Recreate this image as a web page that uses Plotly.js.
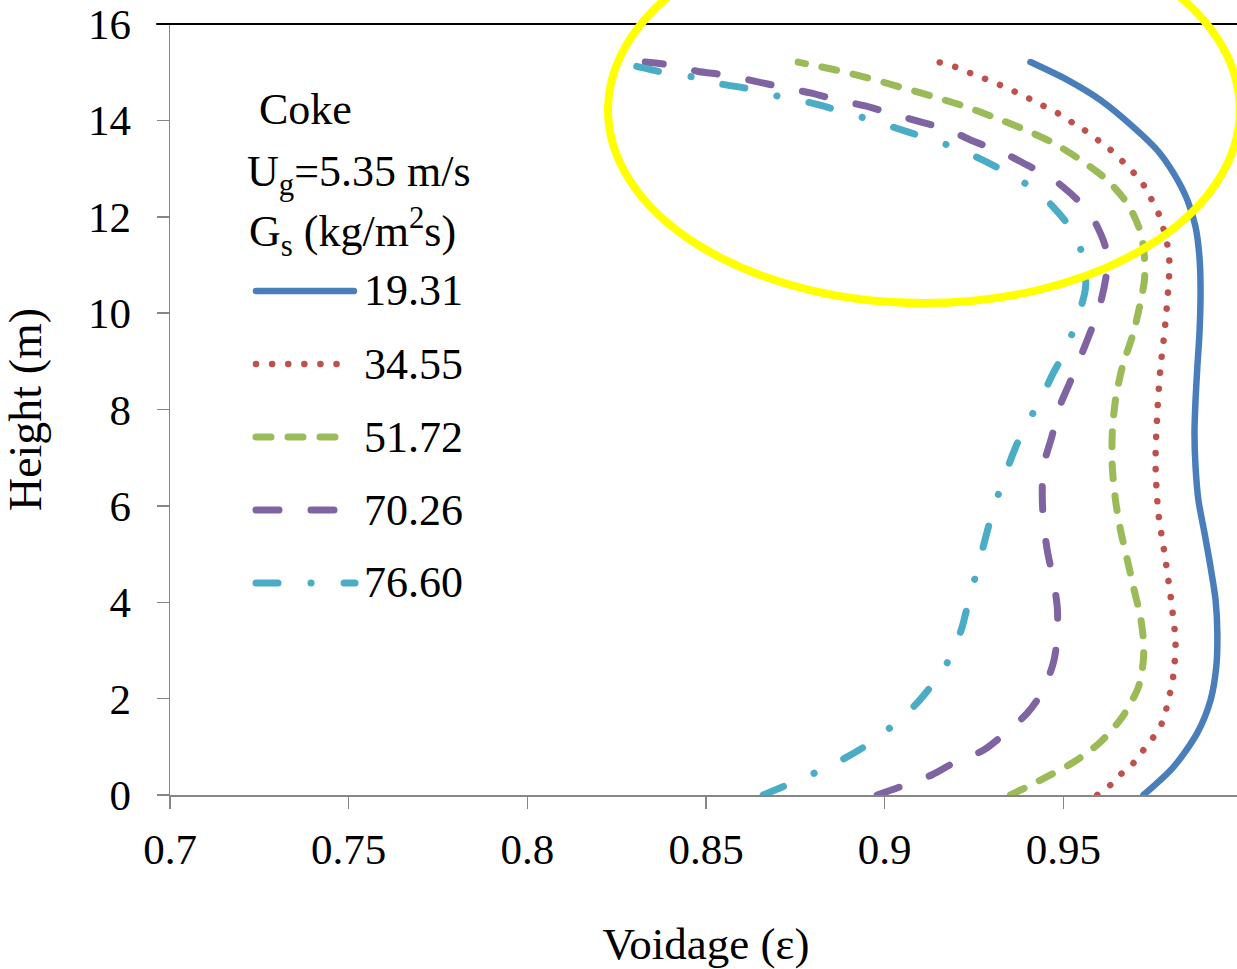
<!DOCTYPE html>
<html>
<head>
<meta charset="utf-8">
<script src="https://cdn.plot.ly/plotly-3.0.1.min.js"></script>
<style>
  html, body { margin: 0; padding: 0; overflow: hidden; background: #ffffff; }
  #chart { width: 1250px; height: 969px; }
  /* rounded dash ends, like the original drawing tool */
  .scatterlayer .js-line, .shapelayer path { stroke-linecap: round !important; stroke-linejoin: round !important; }
</style>
</head>
<body>
<div id="chart"></div>
<script>
// Axial voidage profiles in the riser, coke particles, Ug = 5.35 m/s
const seriesNames = ['19.31', '34.55', '51.72', '70.26', '76.60'];

const gs1931_eps = [0.9724,0.9808,0.9875,0.9912,0.9928,0.9931,0.9926,0.9912,0.9895,0.9878,0.9870,0.9867,0.9870,0.9875,0.9881,0.9884,0.9881,0.9870,0.9847,0.9808,0.9763,0.9696,0.9604,0.9511,0.9408];
const gs1931_h   = [0,0.58,1.29,1.97,2.66,3.36,4.05,4.73,5.44,6.12,6.81,7.51,8.20,8.88,9.59,10.48,11.16,11.79,12.35,12.91,13.38,13.86,14.42,14.84,15.21];

const gs3455_eps = [0.9595,0.9632,0.9665,0.9696,0.9724,0.9752,0.9777,0.9794,0.9808,0.9814,0.9805,0.9786,0.9766,0.9758,0.9763,0.9772,0.9783,0.9791,0.9797,0.9794,0.9783,0.9772,0.9752,0.9730,0.9702,0.9671,0.9640,0.9604,0.9567,0.9528,0.9489,0.9450,0.9408,0.9366,0.9324,0.9282,0.9240,0.9198,0.9150];
const gs3455_h   = [0,0.21,0.46,0.66,0.93,1.20,1.51,1.97,2.49,3.17,3.84,4.88,5.85,6.89,7.93,8.88,9.59,10.27,10.96,11.31,11.66,11.97,12.28,12.60,12.87,13.11,13.34,13.55,13.76,13.94,14.13,14.28,14.44,14.59,14.73,14.86,14.98,15.11,15.21];

const gs5172_eps = [0.9352,0.9436,0.9528,0.9604,0.9665,0.9710,0.9724,0.9724,0.9716,0.9696,0.9679,0.9660,0.9646,0.9637,0.9637,0.9646,0.9665,0.9696,0.9716,0.9727,0.9727,0.9716,0.9682,0.9623,0.9548,0.9472,0.9388,0.9304,0.9220,0.9133,0.9044,0.8954,0.8867,0.8758];
const gs5172_h   = [0,0.31,0.68,1.10,1.62,2.24,2.80,3.22,3.69,4.32,4.88,5.50,6.12,6.81,7.51,8.20,8.88,9.59,10.23,10.69,11.16,11.68,12.24,12.76,13.18,13.53,13.82,14.07,14.30,14.50,14.69,14.88,15.04,15.21];

const gs7026_eps = [0.8979,0.9044,0.9133,0.9192,0.9276,0.9332,0.9399,0.9441,0.9472,0.9483,0.9483,0.9472,0.9455,0.9444,0.9441,0.9444,0.9469,0.9486,0.9520,0.9548,0.9581,0.9604,0.9623,0.9618,0.9581,0.9534,0.9464,0.9399,0.9329,0.9254,0.9178,0.9100,0.9024,0.8946,0.8870,0.8792,0.8713,0.8632,0.8554,0.8475,0.8400,0.8330];
const gs7026_h   = [0,0.17,0.42,0.66,0.93,1.25,1.70,2.14,2.74,3.28,3.90,4.46,5.08,5.71,6.27,6.81,7.47,7.99,8.59,9.09,9.71,10.21,10.96,11.37,11.99,12.39,12.82,13.07,13.34,13.55,13.80,13.97,14.13,14.30,14.42,14.57,14.69,14.82,14.94,15.02,15.15,15.21];

const gs7660_eps = [0.8660,0.8727,0.8811,0.8890,0.8951,0.9024,0.9091,0.9136,0.9184,0.9217,0.9234,0.9259,0.9282,0.9301,0.9329,0.9360,0.9388,0.9433,0.9472,0.9506,0.9539,0.9562,0.9559,0.9528,0.9472,0.9422,0.9343,0.9262,0.9198,0.9111,0.9024,0.8960,0.8870,0.8783,0.8713,0.8624,0.8531,0.8464,0.8377,0.8288,0.8223];
const gs7660_h   = [0,0.21,0.48,0.77,1.04,1.45,1.91,2.32,2.86,3.49,4.00,4.67,5.33,5.85,6.47,7.10,7.57,8.16,8.76,9.23,9.88,10.52,11.06,11.68,12.20,12.55,12.91,13.22,13.43,13.65,13.86,14.01,14.21,14.38,14.48,14.65,14.77,14.90,15.00,15.15,15.21];

const xTickVals = [0.7, 0.75, 0.8, 0.85, 0.9, 0.95, 1.0];
const xTickText = ['0.7', '0.75', '0.8', '0.85', '0.9', '0.95', '1'];
const yTickVals = [0, 2, 4, 6, 8, 10, 12, 14, 16];

const legendHeader = ['Coke', 'U<sub>g</sub>=5.35 m/s', 'G<sub>s</sub> (kg/m<sup>2</sup>s)'];

// line styles per series
const styles = [
  { color: '#4A7EBB', width: 6.5, dash: 'solid' },
  { color: '#C0504D', width: 6.5, dash: '0.1px,16px' },
  { color: '#9BBB59', width: 7, dash: '15px,17px' },
  { color: '#8064A2', width: 7, dash: '23px,32px' },
  { color: '#4BACC6', width: 7, dash: '22px,33px,0.1px,33px' }
];

const epsData = [gs1931_eps, gs3455_eps, gs5172_eps, gs7026_eps, gs7660_eps];
const hData   = [gs1931_h, gs3455_h, gs5172_h, gs7026_h, gs7660_h];

const traces = seriesNames.map((name, i) => ({
  type: 'scatter',
  mode: 'lines',
  name: name,
  x: epsData[i],
  y: hData[i],
  line: { color: styles[i].color, width: styles[i].width, dash: styles[i].dash, shape: 'spline', smoothing: 0.8 },
  showlegend: false,
  hoverinfo: 'skip'
}));

const serif = 'Liberation Serif, Times New Roman, serif';

// hand-built legend block (long line samples)
const legendX0 = 0.0802, legendTextX = 0.1791;
const legendEnds = [0.1716, 0.1558, 0.1586, 0.1586, 0.1726];
const legendRowsY = [0.6537, 0.5590, 0.4643, 0.3696, 0.2750];
const headerX = [0.0812, 0.0700, 0.0718];
const headerY = [0.8885, 0.8042, 0.7302];

const shapes = [
  // black top frame line
  { type: 'line', xref: 'paper', yref: 'paper', x0: -0.0121, x1: 1, y0: 1, y1: 1, line: { color: '#000000', width: 2 } },
  // yellow highlight ring around the top of the profiles
  { type: 'circle', xref: 'paper', yref: 'paper', x0: 0.4086, x1: 0.998, y0: 0.638, y1: 1.139,
    line: { color: '#FFFF00', width: 8 }, layer: 'above' }
];
seriesNames.forEach((n, i) => {
  shapes.push({ type: 'line', xref: 'paper', yref: 'paper', x0: legendX0, x1: legendEnds[i],
    y0: legendRowsY[i], y1: legendRowsY[i],
    line: { color: styles[i].color, width: styles[i].width, dash: styles[i].dash } });
});

const annotations = [];
legendHeader.forEach((t, i) => {
  annotations.push({ xref: 'paper', yref: 'paper', x: headerX[i], y: headerY[i], xanchor: 'left', yanchor: 'middle',
    text: t, showarrow: false, font: { family: serif, size: 44, color: '#000' } });
});
seriesNames.forEach((n, i) => {
  annotations.push({ xref: 'paper', yref: 'paper', x: legendTextX, y: legendRowsY[i], xanchor: 'left', yanchor: 'middle',
    text: n, showarrow: false, font: { family: serif, size: 44, color: '#000' } });
});

const layout = {
  width: 1250,
  height: 969,
  margin: { l: 170, r: 8, t: 24, b: 174 },
  paper_bgcolor: '#ffffff',
  plot_bgcolor: '#ffffff',
  showlegend: false,
  xaxis: {
    range: [0.7, 1.0],
    tickmode: 'array', tickvals: xTickVals, ticktext: xTickText,
    ticks: 'outside', ticklen: 12, tickwidth: 1.5, tickcolor: '#868686',
    showline: true, linecolor: '#868686', linewidth: 1.5,
    showgrid: false, zeroline: false,
    tickfont: { family: serif, size: 43, color: '#000' },
    ticklabelstandoff: 4,
    title: { text: 'Voidage (ε)', font: { family: serif, size: 45, color: '#000' }, standoff: 58 },
    automargin: false
  },
  yaxis: {
    range: [0, 16],
    tickmode: 'array', tickvals: yTickVals,
    ticks: 'outside', ticklen: 12, tickwidth: 1.5, tickcolor: '#868686',
    showline: true, linecolor: '#868686', linewidth: 1.5,
    showgrid: false, zeroline: false,
    tickfont: { family: serif, size: 43, color: '#000' },
    ticklabelstandoff: 17,
    title: { text: 'Height (m)', font: { family: serif, size: 46, color: '#000' }, standoff: 36 },
    automargin: false
  },
  shapes: shapes,
  annotations: annotations
};

Plotly.newPlot('chart', traces, layout, { displayModeBar: false, staticPlot: true });
</script>
</body>
</html>
